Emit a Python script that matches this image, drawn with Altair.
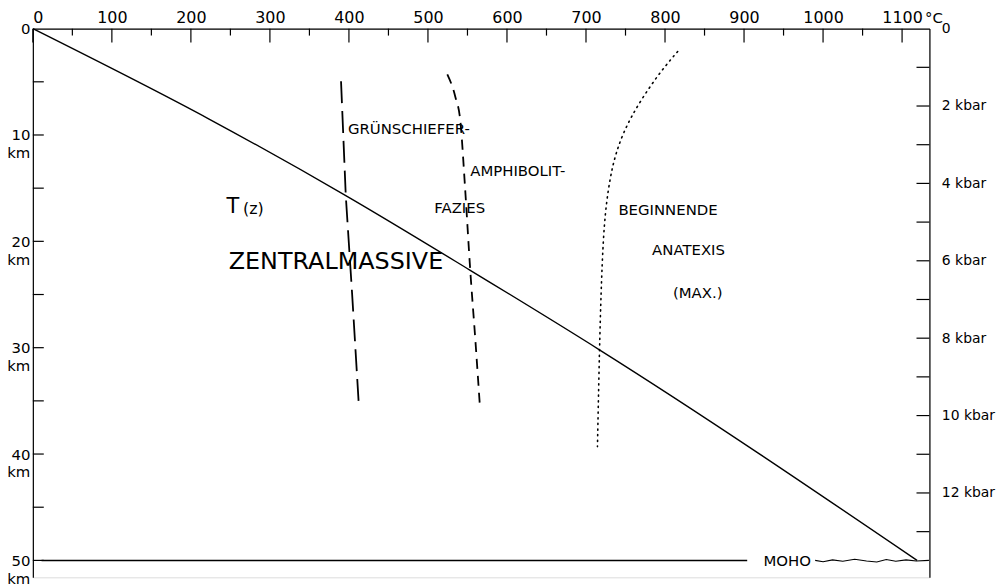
import altair as alt
import pandas as pd

# ---- data ----
geo_T = [0, 223, 396, 553, 717, 1119]
geo_z = [0, 8.5, 15.7, 22.7, 30.2, 50.0]

gs_T = [390, 396, 404, 412.6]          # Grünschiefer boundary (long dashes)
gs_z = [4.95, 15.7, 24.9, 35.5]

am_T = [524.5, 534.6, 541, 547, 553.5, 560, 566]   # Amphibolit boundary (short dashes)
am_z = [4.3, 6.4, 8.7, 15.0, 22.7, 29.3, 35.8]

ana_T = [816, 789, 755, 738, 729.6, 723, 719.5, 717, 714.5]   # beginnende Anatexis (dotted)
ana_z = [2.15, 4.5, 8.4, 11.5, 14.3, 18.0, 23.6, 30.2, 39.3]

moho_T = [11, 904]
moho_z = [50, 50]
moho_w_T = [990, 1000, 1012, 1025, 1040, 1055, 1068, 1080, 1092, 1105, 1118, 1134]
moho_w_z = [50.0, 50.12, 49.95, 50.08, 49.9, 50.05, 50.15, 49.92, 50.08, 49.95, 50.05, 50.0]

x_major = [0, 100, 200, 300, 400, 500, 600, 700, 800, 900, 1000, 1100]
x_minor = [50, 150, 250, 350, 450, 550, 650, 750, 850, 950, 1050]
z_ticks = [5, 10, 15, 20, 25, 30, 35, 40, 45, 50]
z_labels = [0, 10, 20, 30, 40, 50]
p_ticks = [1, 2, 3, 4, 5, 6, 7, 8, 9, 10, 11, 12, 13]
p_labels = [0, 2, 4, 6, 8, 10, 12]

label_text = ["GRÜNSCHIEFER-", "AMPHIBOLIT-", "FAZIES", "BEGINNENDE", "ANATEXIS",
              "(MAX.)", "T", "(z)", "ZENTRALMASSIVE", "MOHO", "°C"]
label_T = [398.7, 553.5, 508, 741, 783.6, 810, 245, 266, 247.8, 924.5, 1129]
label_z = [9.44, 13.36, 16.9, 17.1, 20.84, 24.86, 16.8, 17.0, 21.96, 50.1, -0.95]
label_fs = [15, 15, 15, 15, 15, 15, 21, 16, 24, 15, 15]

W, H = 902, 552
FONT = "DejaVu Sans"

xs = alt.Scale(domain=[0, 1134.6], nice=False, zero=False)
ys = alt.Scale(domain=[0, 51.59], nice=False, zero=False, reverse=True)
ps = alt.Scale(domain=[0, 14.18], nice=False, zero=False, reverse=True)

xaxis = alt.Axis(orient="top", values=x_major, format="d", ticks=False, grid=False,
                 title=None, labelFontSize=16, labelPadding=3, labelFont=FONT,
                 labelColor="black", domainColor="black", domainWidth=1.2)
yaxis = alt.Axis(orient="left", values=z_labels, format="d", ticks=False, grid=False,
                 title=None, labelFontSize=15, labelPadding=3, labelFont=FONT,
                 labelColor="black", domainColor="black", domainWidth=1.2,
                 labelLineHeight=18, labelBaseline="middle",
                 labelExpr="datum.value == 0 ? ['0', ''] : [datum.label, 'km']")
paxis = alt.Axis(orient="right", values=p_labels, format="d", ticks=False, grid=False,
                 title=None, labelFontSize=14, labelPadding=12, labelFont=FONT,
                 labelColor="black", domainColor="black", domainWidth=1.2,
                 labelExpr="datum.value == 0 ? '0' : datum.label + ' kbar'")


def X(f="T"):
    return alt.X(f"{f}:Q", scale=xs, axis=xaxis)


def Y(f="z"):
    return alt.Y(f"{f}:Q", scale=ys, axis=yaxis)


def line_df(T, z):
    return pd.DataFrame({"T": T, "z": z, "o": list(range(len(T)))})


geo = alt.Chart(line_df(geo_T, geo_z)).mark_line(color="black", strokeWidth=1.4,
                                                 interpolate="monotone").encode(
    x=X(), y=Y(), order="o:Q")
gs = alt.Chart(line_df(gs_T, gs_z)).mark_line(color="black", strokeWidth=1.8,
                                              strokeDash=[22, 8]).encode(x=X(), y=Y(), order="o:Q")
am = alt.Chart(line_df(am_T, am_z)).mark_line(color="black", strokeWidth=1.8,
                                              strokeDash=[10, 7], interpolate="monotone").encode(
    x=X(), y=Y(), order="o:Q")
ana = alt.Chart(line_df(ana_T, ana_z)).mark_line(color="black", strokeWidth=1.6,
                                                 strokeDash=[1.2, 4.5], strokeCap="round",
                                                 interpolate="basis").encode(
    x=X(), y=Y(), order="o:Q")
moho = alt.Chart(line_df(moho_T, moho_z)).mark_line(color="black", strokeWidth=1.5).encode(
    x=X(), y=Y(), order="o:Q")
moho_w = alt.Chart(line_df(moho_w_T, moho_w_z)).mark_line(color="black", strokeWidth=1.1).encode(
    x=X(), y=Y(), order="o:Q")

top_major = alt.Chart(pd.DataFrame({"T": x_major})).mark_rule(color="black", strokeWidth=1.2).encode(
    x=X(), y=alt.value(0), y2=alt.value(14))
top_minor = alt.Chart(pd.DataFrame({"T": x_minor})).mark_rule(color="black", strokeWidth=1.2).encode(
    x=X(), y=alt.value(0), y2=alt.value(7))
left_ticks = alt.Chart(pd.DataFrame({"z": z_ticks})).mark_rule(color="black", strokeWidth=1.2).encode(
    y=Y(), x=alt.value(0), x2=alt.value(11))

labels = alt.Chart(pd.DataFrame({"T": label_T, "z": label_z, "t": label_text, "fs": label_fs})).mark_text(
    align="left", baseline="middle", font=FONT, color="black").encode(
    x=X(), y=Y(), text="t:N", size=alt.Size("fs:Q", scale=None, legend=None))

km_group = alt.layer(top_major, top_minor, left_ticks, geo, gs, am, ana, moho, moho_w, labels)

right_ticks = alt.Chart(pd.DataFrame({"p": p_ticks})).mark_rule(color="black", strokeWidth=1.2).encode(
    y=alt.Y("p:Q", scale=ps, axis=paxis), x=alt.value(W - 13), x2=alt.value(W))

chart = alt.layer(km_group, right_ticks).resolve_scale(y="independent").properties(
    width=W, height=H,
    autosize=alt.AutoSizeParams(type="none"),
    padding={"left": 25, "top": 19, "right": 70, "bottom": 8},
).configure_view(stroke=None).configure(background="white")

chart.save("out.html", embed_options={"renderer": "svg", "actions": False})
